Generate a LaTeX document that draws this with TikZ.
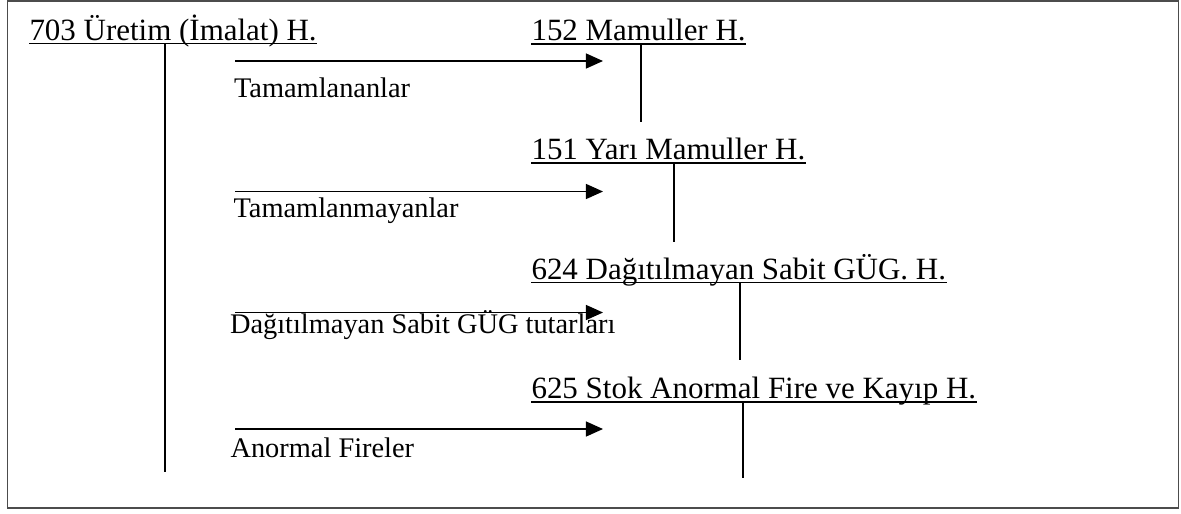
\documentclass[tikz,border=0pt]{standalone}
\usepackage{fontspec}
\setmainfont{Liberation Serif}
\usetikzlibrary{arrows.meta,calc}
\tikzset{
  hesap/.style={inner sep=0pt, anchor=base west, font=\fontsize{12}{14}\selectfont},
  aciklama/.style={inner sep=0pt, anchor=base west, font=\fontsize{11}{13}\selectfont},
  altcizgi/.style={line width=0.5pt},
  tcizgi/.style={line width=0.45pt},
  ok/.style={line width=0.55pt, -{Triangle[length=6.6pt,width=5.8pt]}}
}
\begin{document}
\begin{tikzpicture}[x=0.3876pt, y=-0.3876pt]
    \useasboundingbox (0,0) rectangle (1181,513);
    % çerçeve
    \draw[line width=0.6pt, black!70] (7.5,0.8) rectangle (1178.5,508);

    % hesaplar
    \node[hesap] (h703) at (29,40) {703 Üretim (İmalat) H.};
    \node[hesap] (h152) at (531,40.5) {152 Mamuller H.};
    \node[hesap] (h151) at (531,159.5) {151 Yarı Mamuller H.};
    \node[hesap] (h624) at (531,279) {624 Dağıtılmayan Sabit GÜG. H.};
    \node[hesap] (h625) at (531,398.5) {625 Stok Anormal Fire ve Kayıp H.};

    % alt çizgiler
    \draw[altcizgi] ($(h703.base west)+(0,3.5)$) -- ($(h703.base east)+(0,3.5)$);
    \draw[altcizgi] ($(h152.base west)+(0,3.5)$) -- ($(h152.base east)+(0,3.5)$);
    \draw[altcizgi] ($(h151.base west)+(0,3.5)$) -- ($(h151.base east)+(0,3.5)$);
    \draw[altcizgi] ($(h624.base west)+(0,3.5)$) -- ($(h624.base east)+(0,3.5)$);
    \draw[altcizgi] ($(h625.base west)+(0,3.5)$) -- ($(h625.base east)+(0,3.5)$);

    % T hesap dikey çizgileri
    \coordinate (t703) at (165,472);
    \coordinate (t152) at (641,122);
    \coordinate (t151) at (674,242);
    \coordinate (t624) at (740,360);
    \coordinate (t625) at (743,478);
    \draw[tcizgi] ($(h703.base -| t703)+(0,4)$) -- (t703);
    \draw[tcizgi] ($(h152.base -| t152)+(0,4)$) -- (t152);
    \draw[tcizgi] ($(h151.base -| t151)+(0,4)$) -- (t151);
    \draw[tcizgi] ($(h624.base -| t624)+(0,4)$) -- (t624);
    \draw[tcizgi] ($(h625.base -| t625)+(0,4)$) -- (t625);

    % oklar
    \coordinate (o1b) at (235,61);
    \coordinate (o1s) at (603,61);
    \coordinate (o2b) at (235,191.5);
    \coordinate (o2s) at (603,191.5);
    \coordinate (o3b) at (235,312.5);
    \coordinate (o3s) at (603,312.5);
    \coordinate (o4b) at (235,429);
    \coordinate (o4s) at (603,429);
    \draw[ok] (o1b) -- (o1s);
    \draw[ok] (o2b) -- (o2s);
    \draw[ok] (o3b) -- (o3s);
    \draw[ok] (o4b) -- (o4s);

    % açıklamalar
    \node[aciklama] (tam) at (233.5,97) {Tamamlananlar};
    \node[aciklama] (tamy) at (233,217) {Tamamlanmayanlar};
    \node[aciklama] (dag) at (229.5,333.5) {Dağıtılmayan Sabit GÜG tutarları};
    \node[aciklama] (fire) at (230,457) {Anormal Fireler};
\end{tikzpicture}
\end{document}
